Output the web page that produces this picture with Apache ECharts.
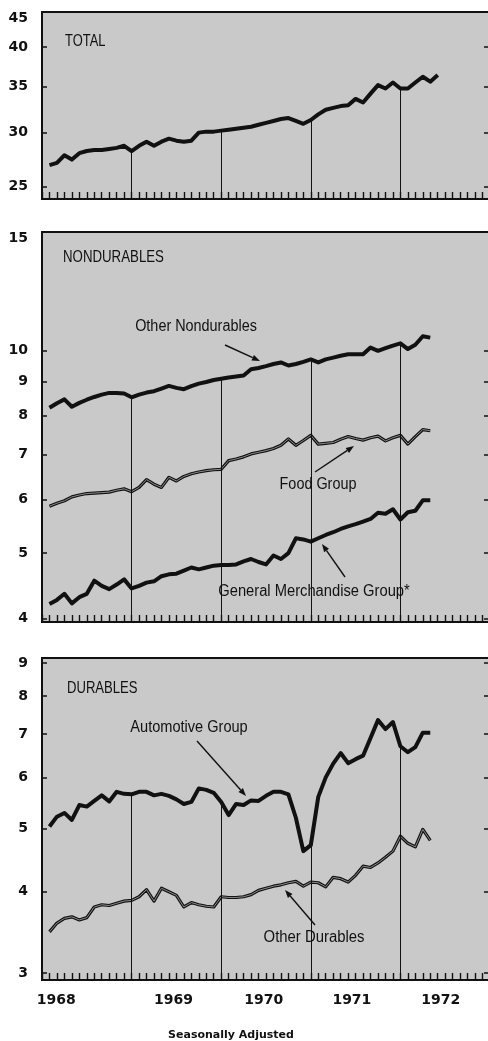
<!DOCTYPE html>
<html>
<head>
<meta charset="utf-8">
<script src="https://cdn.jsdelivr.net/npm/echarts@6/dist/echarts.min.js"></script>
<style>
  html, body { margin: 0; padding: 0; background: #fff; }
  #chart { width: 488px; height: 1041px; }
</style>
</head>
<body>
<div id="chart"></div>
<script>
// monthly retail sales, billions of dollars (log scale)
// first value sits on month 1 of the axis (axis runs 0..60 months from 1968)
const total = [26.9, 27.1, 27.8, 27.4, 28.0, 28.2, 28.3, 28.3, 28.4, 28.5, 28.7, 28.2,
  28.7, 29.1, 28.7, 29.1, 29.4, 29.2, 29.1, 29.2, 30.0, 30.1, 30.1, 30.2,
  30.3, 30.4, 30.5, 30.6, 30.8, 31.0, 31.2, 31.4, 31.5, 31.2, 30.9, 31.3,
  31.9, 32.4, 32.6, 32.8, 32.9, 33.6, 33.2, 34.2, 35.2, 34.8, 35.5, 34.8,
  34.8, 35.5, 36.2, 35.6, 36.4];

const otherNondurables = [8.22, 8.35, 8.46, 8.25, 8.36, 8.45, 8.53, 8.6, 8.65, 8.65, 8.63, 8.52,
  8.6, 8.66, 8.7, 8.78, 8.86, 8.8, 8.76, 8.85, 8.93, 8.98, 9.04, 9.08,
  9.12, 9.15, 9.18, 9.38, 9.42, 9.48, 9.55, 9.6, 9.5, 9.55, 9.62, 9.7,
  9.6, 9.7, 9.76, 9.82, 9.87, 9.87, 9.87, 10.1, 9.99, 10.08, 10.17, 10.25,
  10.05, 10.2, 10.5, 10.45];

const foodGroup = [5.87, 5.93, 5.98, 6.06, 6.1, 6.13, 6.14, 6.15, 6.16, 6.2, 6.23, 6.17,
  6.26, 6.43, 6.33, 6.26, 6.48, 6.4, 6.5, 6.56, 6.6, 6.63, 6.65, 6.66,
  6.86, 6.9, 6.95, 7.02, 7.06, 7.1, 7.15, 7.23, 7.39, 7.23, 7.35, 7.48,
  7.26, 7.28, 7.3, 7.38, 7.45, 7.4, 7.36, 7.42, 7.46, 7.34, 7.42, 7.48,
  7.26, 7.45, 7.63, 7.6];

const generalMerchandise = [4.2, 4.26, 4.35, 4.21, 4.3, 4.35, 4.55, 4.47, 4.42, 4.49, 4.57, 4.43,
  4.47, 4.52, 4.54, 4.62, 4.65, 4.66, 4.71, 4.76, 4.73, 4.76, 4.79, 4.8,
  4.8, 4.81, 4.86, 4.9, 4.85, 4.81, 4.96, 4.9, 5.0, 5.26, 5.24, 5.2,
  5.26, 5.32, 5.37, 5.43, 5.48, 5.52, 5.57, 5.62, 5.74, 5.72, 5.81, 5.61,
  5.75, 5.78, 5.99, 5.99];

const automotive = [5.04, 5.22, 5.29, 5.16, 5.44, 5.41, 5.52, 5.63, 5.51, 5.7, 5.66, 5.65,
  5.7, 5.7, 5.63, 5.66, 5.62, 5.55, 5.46, 5.5, 5.77, 5.74, 5.68, 5.5,
  5.25, 5.46, 5.44, 5.53, 5.52, 5.62, 5.7, 5.7, 5.65, 5.2, 4.62, 4.72,
  5.6, 6.0, 6.3, 6.54, 6.31, 6.4, 6.48, 6.9, 7.35, 7.12, 7.3, 6.7,
  6.56, 6.68, 7.03, 7.03];

const otherDurables = [3.47, 3.58, 3.64, 3.66, 3.62, 3.65, 3.79, 3.82, 3.81, 3.84, 3.87, 3.88,
  3.93, 4.03, 3.87, 4.05, 4.0, 3.95, 3.79, 3.85, 3.82, 3.8, 3.79, 3.93,
  3.92, 3.92, 3.93, 3.96, 4.02, 4.05, 4.08, 4.1, 4.13, 4.15, 4.08, 4.14,
  4.13, 4.07, 4.21, 4.19, 4.14, 4.24, 4.38, 4.36, 4.43, 4.52, 4.62, 4.87,
  4.75, 4.69, 4.99, 4.8];

const totalTicks = [25, 30, 35, 40, 45];
const nondurableTicks = [4, 5, 6, 7, 8, 9, 10, 15];
const durableTicks = [3, 4, 5, 6, 7, 8, 9];
const yearLabels = ['1968', '1969', '1970', '1971', '1972'];
const yearLabelPos = [1.9, 17.6, 29.7, 41.5, 53.4];
const yearMarks = [12, 24, 36, 48];

const INK = '#111';
const PAPER = '#c9c9c9';
const LABEL_FONT = { fontFamily: 'DejaVu Sans', fontWeight: 'bold', fontSize: 14, color: INK };

const panels = [
  { top: 12, height: 187, min: 24, max: 45, ticks: totalTicks,
    lines: [{ name: 'Total', data: total, lead: true }] },
  { top: 232, height: 390, min: 3.95, max: 15, ticks: nondurableTicks,
    lines: [
      { name: 'Other Nondurables', data: otherNondurables, lead: true },
      { name: 'Food Group', data: foodGroup, hollow: true },
      { name: 'General Merchandise Group', data: generalMerchandise }
    ] },
  { top: 658, height: 322, min: 2.926, max: 9.16, ticks: durableTicks,
    lines: [
      { name: 'Automotive Group', data: automotive, lead: true },
      { name: 'Other Durables', data: otherDurables, hollow: true }
    ] }
];

const toPoints = arr => arr.map((v, i) => [i + 1, v]);

const grid = [], xAxis = [], yAxis = [], series = [];

panels.forEach((p, i) => {
  grid.push({
    left: 42, width: 448, top: p.top, height: p.height,
    show: true, backgroundColor: PAPER, borderColor: INK, borderWidth: 2,
    outerBoundsMode: 'none'
  });

  xAxis.push({
    gridIndex: i, type: 'value', min: 0, max: 60, interval: 1,
    axisLine: { lineStyle: { color: INK, width: 2 } },
    axisTick: { inside: true, length: 7, lineStyle: { color: INK, width: 1.4 } },
    axisLabel: i === 2
      ? { customValues: yearLabelPos, margin: 13, ...LABEL_FONT,
          formatter: v => yearLabels[yearLabelPos.indexOf(v)] || '' }
      : { show: false },
    splitLine: { show: false }
  });

  // the top label of a panel sits a little below the border in the original
  const topTick = p.ticks[p.ticks.length - 1];
  yAxis.push({
    gridIndex: i, type: 'log', logBase: 10, min: p.min, max: p.max,
    axisLine: { show: true, lineStyle: { color: INK, width: 2 } },
    axisTick: { inside: true, length: 5, customValues: p.ticks, lineStyle: { color: INK, width: 1.5 } },
    axisLabel: {
      customValues: p.ticks, margin: 14, ...LABEL_FONT,
      formatter: v => (v === topTick && topTick === p.max) ? `{low|${v}}` : String(v),
      rich: { low: { ...LABEL_FONT, padding: [13, 0, 0, 0] } }
    },
    splitLine: { show: false }
  });
  yAxis.push({
    gridIndex: i, type: 'log', logBase: 10, min: p.min, max: p.max, position: 'right',
    axisLine: { show: false },
    axisTick: { inside: true, length: 6, customValues: p.ticks, lineStyle: { color: INK, width: 1.5 } },
    axisLabel: { show: false },
    splitLine: { show: false }
  });

  p.lines.forEach(l => {
    const s = {
      name: l.name, type: 'line', xAxisIndex: i, yAxisIndex: i * 2,
      data: toPoints(l.data), showSymbol: false, symbol: 'none', silent: true,
      lineStyle: { color: INK, width: l.hollow ? 3.2 : 4, join: 'round' },
      z: 3
    };
    if (l.lead) {
      // year dividers rise from the base to the top series
      s.markLine = {
        silent: true, symbol: 'none', label: { show: false }, animation: false,
        lineStyle: { color: INK, width: 1, type: 'solid' },
        data: yearMarks.map(m => [{ coord: [m, p.min] }, { coord: [m, l.data[m - 1]] }])
      };
    }
    series.push(s);
    if (l.hollow) {
      series.push({
        name: l.name + ' core', type: 'line', xAxisIndex: i, yAxisIndex: i * 2,
        data: toPoints(l.data), showSymbol: false, symbol: 'none', silent: true,
        lineStyle: { color: '#8c8c8c', width: 1 }, z: 4
      });
    }
  });
});

function arrow(x1, y1, x2, y2) {
  const a = Math.atan2(y2 - y1, x2 - x1), L = 8, W = 3;
  const bx = x2 - L * Math.cos(a), by = y2 - L * Math.sin(a);
  return [
    { type: 'line', shape: { x1, y1, x2: bx, y2: by }, style: { stroke: INK, lineWidth: 1.4 }, z: 10 },
    { type: 'polygon', z: 10, style: { fill: INK },
      shape: { points: [[x2, y2], [bx - W * Math.sin(a), by + W * Math.cos(a)], [bx + W * Math.sin(a), by - W * Math.cos(a)]] } }
  ];
}

function label(text, x, y, align, size, sx) {
  return {
    type: 'text', x, y, scaleX: sx, z: 10,
    style: { text, fill: INK, font: `${size}px "Liberation Sans", Arial, sans-serif`, align, verticalAlign: 'middle' }
  };
}

const graphic = [
  label('TOTAL', 65, 41, 'left', 17, 0.76),
  label('NONDURABLES', 63, 257, 'left', 17, 0.78),
  label('DURABLES', 67, 688, 'left', 17, 0.77),
  label('Other Nondurables', 196, 327, 'center', 16, 0.9),
  label('Food Group', 318, 485, 'center', 16, 0.9),
  label('General Merchandise Group*', 314, 592, 'center', 16, 0.92),
  label('Automotive Group', 189, 728, 'center', 16, 0.91),
  label('Other Durables', 314, 938, 'center', 16, 0.93),
  ...arrow(225, 345, 260, 361),
  ...arrow(315, 472, 354, 446),
  ...arrow(345, 577, 322, 544),
  ...arrow(197, 741, 246, 796),
  ...arrow(315, 925, 285, 890),
  {
    type: 'text', x: 231, y: 1035, z: 10,
    style: { text: 'Seasonally Adjusted', fill: INK, font: 'bold 11px "DejaVu Sans", sans-serif', align: 'center', verticalAlign: 'middle' }
  }
];

const chart = echarts.init(document.getElementById('chart'));
chart.setOption({
  animation: false,
  backgroundColor: '#fff',
  grid, xAxis, yAxis, series, graphic
});
</script>
</body>
</html>
